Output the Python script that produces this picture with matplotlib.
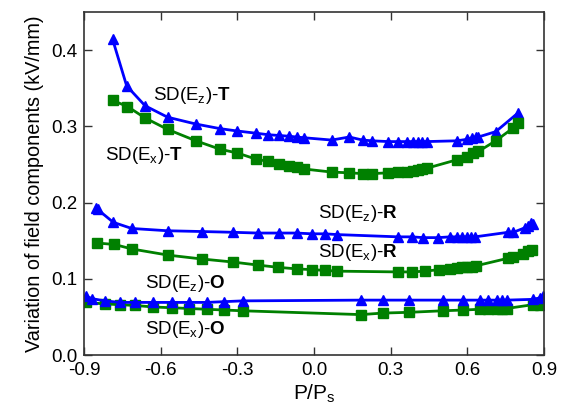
import matplotlib
matplotlib.use("Agg")
import matplotlib.pyplot as plt

plt.rcParams['font.family'] = ['Liberation Sans', 'DejaVu Sans']
plt.rcParams['mathtext.fontset'] = 'custom'
plt.rcParams['mathtext.rm'] = 'Liberation Sans'
plt.rcParams['mathtext.bf'] = 'Liberation Sans:bold'
plt.rcParams['mathtext.it'] = 'Liberation Sans:italic'

# ---- data ----
x_ezT = [-0.788, -0.733, -0.661, -0.573, -0.462, -0.368, -0.303, -0.227, -0.179, -0.137,
         -0.097, -0.068, -0.038, 0.069, 0.138, 0.190, 0.228, 0.291, 0.330, 0.363,
         0.389, 0.408, 0.421, 0.441, 0.558, 0.600, 0.620, 0.633, 0.643, 0.711, 0.800]
y_ezT = [0.414, 0.353, 0.327, 0.312, 0.303, 0.297, 0.294, 0.291, 0.289, 0.288,
         0.287, 0.286, 0.285, 0.282, 0.286, 0.282, 0.281, 0.280, 0.280, 0.280,
         0.280, 0.280, 0.280, 0.280, 0.281, 0.283, 0.285, 0.286, 0.286, 0.293, 0.318]

x_exT = [-0.788, -0.730, -0.661, -0.573, -0.462, -0.368, -0.300, -0.227, -0.179, -0.137,
         -0.097, -0.068, -0.038, 0.069, 0.138, 0.190, 0.228, 0.291, 0.330, 0.363,
         0.389, 0.408, 0.421, 0.441, 0.558, 0.600, 0.624, 0.643, 0.711, 0.780, 0.800]
y_exT = [0.334, 0.326, 0.311, 0.296, 0.281, 0.270, 0.265, 0.257, 0.254, 0.251,
         0.248, 0.246, 0.244, 0.240, 0.239, 0.238, 0.238, 0.239, 0.240, 0.240,
         0.242, 0.243, 0.244, 0.245, 0.256, 0.260, 0.265, 0.267, 0.281, 0.298, 0.305]

x_ezR = [-0.853, -0.847, -0.785, -0.713, -0.573, -0.440, -0.318, -0.220, -0.137, -0.068,
         -0.009, 0.043, 0.089, 0.330, 0.382, 0.428, 0.487, 0.532, 0.558, 0.578,
         0.597, 0.613, 0.630, 0.760, 0.780, 0.826, 0.839, 0.848, 0.856]
y_ezR = [0.193, 0.191, 0.174, 0.166, 0.163, 0.162, 0.161, 0.160, 0.160, 0.160,
         0.159, 0.159, 0.158, 0.155, 0.155, 0.154, 0.154, 0.155, 0.155, 0.155,
         0.155, 0.155, 0.155, 0.161, 0.161, 0.167, 0.169, 0.173, 0.172]

x_exR = [-0.851, -0.781, -0.711, -0.570, -0.440, -0.318, -0.220, -0.140, -0.068, -0.009,
         0.043, 0.089, 0.330, 0.382, 0.434, 0.490, 0.532, 0.558, 0.578, 0.597,
         0.617, 0.634, 0.760, 0.780, 0.819, 0.839, 0.852]
y_exR = [0.147, 0.145, 0.139, 0.131, 0.126, 0.122, 0.118, 0.115, 0.113, 0.112,
         0.111, 0.110, 0.109, 0.109, 0.110, 0.112, 0.113, 0.114, 0.115, 0.115,
         0.116, 0.117, 0.127, 0.128, 0.133, 0.136, 0.138]

x_ezO = [-0.892, -0.870, -0.818, -0.759, -0.700, -0.629, -0.557, -0.488, -0.420, -0.351,
         -0.279, 0.184, 0.269, 0.373, 0.503, 0.584, 0.650, 0.682, 0.715, 0.734,
         0.754, 0.856, 0.884, 0.897]
y_ezO = [0.077, 0.074, 0.071, 0.069, 0.069, 0.069, 0.069, 0.069, 0.069, 0.070,
         0.071, 0.072, 0.072, 0.072, 0.072, 0.072, 0.072, 0.072, 0.072, 0.072,
         0.072, 0.073, 0.075, 0.077]

x_exO = [-0.892, -0.818, -0.759, -0.700, -0.629, -0.557, -0.488, -0.420, -0.351, -0.279,
         0.184, 0.269, 0.373, 0.503, 0.584, 0.650, 0.682, 0.715, 0.734, 0.754,
         0.856, 0.884, 0.897]
y_exO = [0.069, 0.067, 0.066, 0.065, 0.063, 0.062, 0.061, 0.060, 0.059, 0.058,
         0.053, 0.055, 0.056, 0.058, 0.059, 0.060, 0.061, 0.061, 0.061, 0.061,
         0.066, 0.066, 0.067]

x_ticks = [-0.9, -0.6, -0.3, 0.0, 0.3, 0.6, 0.9]
y_ticks = [0.0, 0.1, 0.2, 0.3, 0.4]

BLUE = '#0000ff'
GREEN = '#008000'

fig = plt.figure(figsize=(5.78, 4.2), dpi=100)
ax = fig.add_axes([84/578, 1 - 355/420, 460/578, 343/420])

tri = dict(color=BLUE, marker='^', markersize=7.5, linewidth=2)
sq = dict(color=GREEN, marker='s', markersize=6.5, linewidth=2)

ax.plot(x_ezT, y_ezT, **tri)
ax.plot(x_exT, y_exT, **sq)
ax.plot(x_ezR, y_ezR, **tri)
ax.plot(x_exR, y_exR, **sq)
ax.plot(x_exO, y_exO, **sq)
ax.plot(x_ezO, y_ezO, **tri)

ax.set_xlim(-0.9, 0.9)
ax.set_ylim(0.0, 0.45)
ax.set_xticks(x_ticks)
ax.set_xticklabels([f"{v:.1f}" for v in x_ticks])
ax.set_yticks(y_ticks)
ax.set_yticklabels([f"{v:.1f}" for v in y_ticks])
ax.tick_params(direction='in', top=True, right=True, length=6, width=1,
               labelsize=13.5, pad=5, color='#333333')
for s in ax.spines.values():
    s.set_linewidth(1.2)
    s.set_color('#333333')

ax.set_xlabel(r'P/P$_\mathregular{s}$', fontsize=15, labelpad=3)
ax.set_ylabel('Variation of field components (kV/mm)', fontsize=14.3, labelpad=5)

fs = 13.5
ax.text(-0.63, 0.341, r'SD(E$_\mathregular{z}$)-$\mathbf{T}$', fontsize=fs, va='center')
ax.text(-0.818, 0.262, r'SD(E$_\mathregular{x}$)-$\mathbf{T}$', fontsize=fs, va='center')
ax.text(0.016, 0.186, r'SD(E$_\mathregular{z}$)-$\mathbf{R}$', fontsize=fs, va='center')
ax.text(0.016, 0.134, r'SD(E$_\mathregular{x}$)-$\mathbf{R}$', fontsize=fs, va='center')
ax.text(-0.661, 0.094, r'SD(E$_\mathregular{z}$)-$\mathbf{O}$', fontsize=fs, va='center')
ax.text(-0.661, 0.033, r'SD(E$_\mathregular{x}$)-$\mathbf{O}$', fontsize=fs, va='center')

fig.savefig('out.png', dpi=100)
